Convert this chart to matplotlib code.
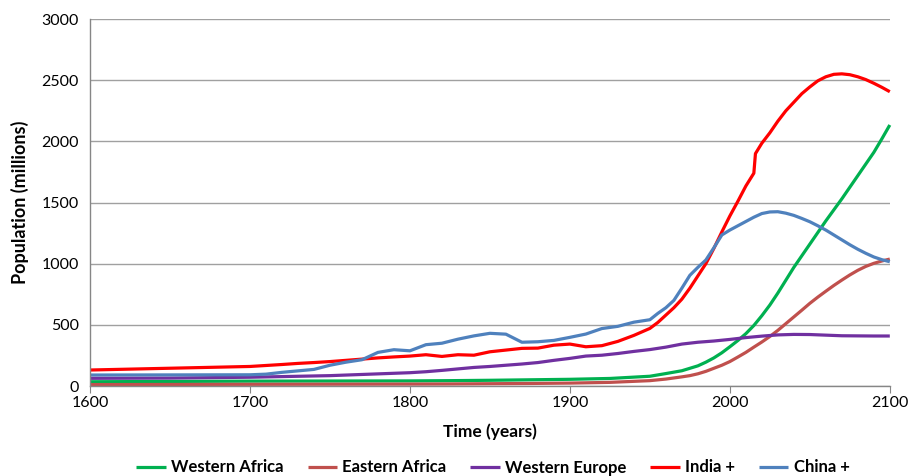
import matplotlib
matplotlib.use("Agg")
import matplotlib.pyplot as plt

# population in millions
wafrica_years = [1600, 1700, 1800, 1825, 1850, 1875, 1900, 1925, 1950, 1960, 1970, 1975,
                 1980, 1985, 1990, 1995, 2000, 2005, 2010, 2015, 2020, 2025, 2030, 2035,
                 2040, 2045, 2050, 2055, 2060, 2065, 2070, 2075, 2080, 2085, 2090, 2095, 2100]
wafrica_pop = [35, 40, 42, 44, 47, 51, 55, 62, 80, 102, 125, 145,
               165, 195, 230, 272, 321, 372, 428, 495, 575, 662, 760, 865,
               970, 1065, 1160, 1255, 1350, 1440, 1530, 1625, 1720, 1815, 1910, 2020, 2134]

eafrica_years = [1600, 1700, 1800, 1825, 1850, 1875, 1900, 1925, 1950, 1960, 1970, 1975,
                 1980, 1985, 1990, 1995, 2000, 2005, 2010, 2015, 2020, 2025, 2030, 2035,
                 2040, 2045, 2050, 2055, 2060, 2065, 2070, 2075, 2080, 2085, 2090, 2095, 2100]
eafrica_pop = [12, 14, 16, 17, 19, 21, 24, 30, 44, 57, 75, 85,
               100, 120, 145, 170, 200, 237, 275, 318, 360, 405, 455, 510,
               565, 620, 676, 727, 775, 822, 866, 908, 946, 978, 1003, 1022, 1038]

weurope_years = [1600, 1650, 1700, 1750, 1800, 1810, 1820, 1830, 1840, 1850, 1860, 1870,
                 1880, 1890, 1900, 1910, 1920, 1930, 1940, 1950, 1960, 1970, 1980, 1990,
                 2000, 2010, 2020, 2030, 2040, 2050, 2060, 2070, 2080, 2090, 2100]
weurope_pop = [63, 65, 72, 85, 109, 117, 128, 140, 152, 160, 170, 180,
               192, 210, 226, 245, 252, 266, 283, 298, 318, 343, 358, 368,
               381, 396, 408, 418, 422, 421, 416, 411, 410, 409, 409]

india_years = [1600, 1700, 1710, 1720, 1730, 1740, 1750, 1760, 1770, 1780, 1790, 1800,
               1810, 1820, 1830, 1840, 1850, 1860, 1870, 1880, 1890, 1900, 1910, 1920,
               1930, 1940, 1950, 1955, 1960, 1965, 1970, 1975, 1980, 1985, 1990, 1995,
               2000, 2005, 2010, 2015, 2016, 2020, 2025, 2030, 2035, 2040, 2045, 2050,
               2055, 2060, 2065, 2070, 2075, 2080, 2085, 2090, 2095, 2100]
india_pop = [131, 160, 168, 176, 185, 192, 200, 210, 220, 230, 238, 245,
             256, 242, 256, 252, 280, 294, 308, 310, 334, 343, 321, 330,
             365, 414, 471, 520, 580, 640, 710, 800, 900, 1000, 1125, 1260,
             1390, 1510, 1635, 1740, 1900, 1985, 2070, 2165, 2250, 2320, 2390, 2445,
             2495, 2528, 2548, 2552, 2545, 2528, 2505, 2475, 2442, 2406]

china_years = [1600, 1700, 1710, 1720, 1730, 1740, 1750, 1760, 1770, 1780, 1790, 1800,
               1810, 1820, 1830, 1840, 1850, 1860, 1870, 1880, 1890, 1900, 1910, 1920,
               1930, 1940, 1950, 1955, 1960, 1965, 1970, 1975, 1980, 1985, 1990, 1995,
               2000, 2005, 2010, 2015, 2020, 2025, 2030, 2035, 2040, 2045, 2050, 2055,
               2060, 2065, 2070, 2075, 2080, 2085, 2090, 2095, 2100]
china_pop = [90, 92, 97, 112, 124, 136, 170, 195, 215, 275, 297, 288,
             338, 350, 383, 410, 431, 424, 358, 362, 373, 398, 425, 470,
             488, 522, 542, 594, 640, 700, 800, 905, 970, 1030, 1130, 1235,
             1275, 1310, 1345, 1380, 1410, 1423, 1425, 1413, 1395, 1370, 1343, 1310,
             1275, 1235, 1195, 1155, 1118, 1085, 1055, 1033, 1016]

series = [
    ("Western Africa", wafrica_years, wafrica_pop, "#00B050"),
    ("Eastern Africa", eafrica_years, eafrica_pop, "#C0504D"),
    ("Western Europe", weurope_years, weurope_pop, "#7030A0"),
    ("India +", india_years, india_pop, "#FF0000"),
    ("China +", china_years, china_pop, "#4F81BD"),
]

plt.rcParams['font.family'] = ['Lato', 'DejaVu Sans']

fig = plt.figure(figsize=(9.13, 4.76), dpi=100)
ax = fig.add_axes([0.0986, 0.189, 0.876, 0.771])

for name, yrs, pop, col in series:
    ax.plot(yrs, pop, color=col, lw=2.3, label=name, solid_capstyle='butt', clip_on=False)

ax.set_xlim(1600, 2100)
ax.set_ylim(0, 3000)
ax.set_xticks(range(1600, 2101, 100))
ax.set_yticks(range(0, 3001, 500))
ax.grid(axis='y', color='#A0A0A0', lw=1)
ax.set_axisbelow(True)

for s in ['top', 'right']:
    ax.spines[s].set_visible(False)
for s in ['left', 'bottom']:
    ax.spines[s].set_color('#868686')
    ax.spines[s].set_linewidth(1)

ax.tick_params(axis='x', length=5, color='#868686', labelsize=11.5, pad=2)
ax.tick_params(axis='y', length=0, labelsize=11.5, pad=8)

ax.set_xlabel("Time (years)", fontsize=12.5, fontweight='bold', labelpad=10)
ax.set_ylabel("Population (millions)", fontsize=13, fontweight='bold', labelpad=9)

handles, labels = ax.get_legend_handles_labels()
fig.legend(handles, labels, loc='center', bbox_to_anchor=(493 / 913, 1 - 467.5 / 476), ncol=5,
           frameon=False, handlelength=1.75, columnspacing=1.45, handletextpad=0.32,
           borderaxespad=0, borderpad=0, prop={'weight': 'bold', 'size': 12})

fig.savefig("out.png", dpi=100)
